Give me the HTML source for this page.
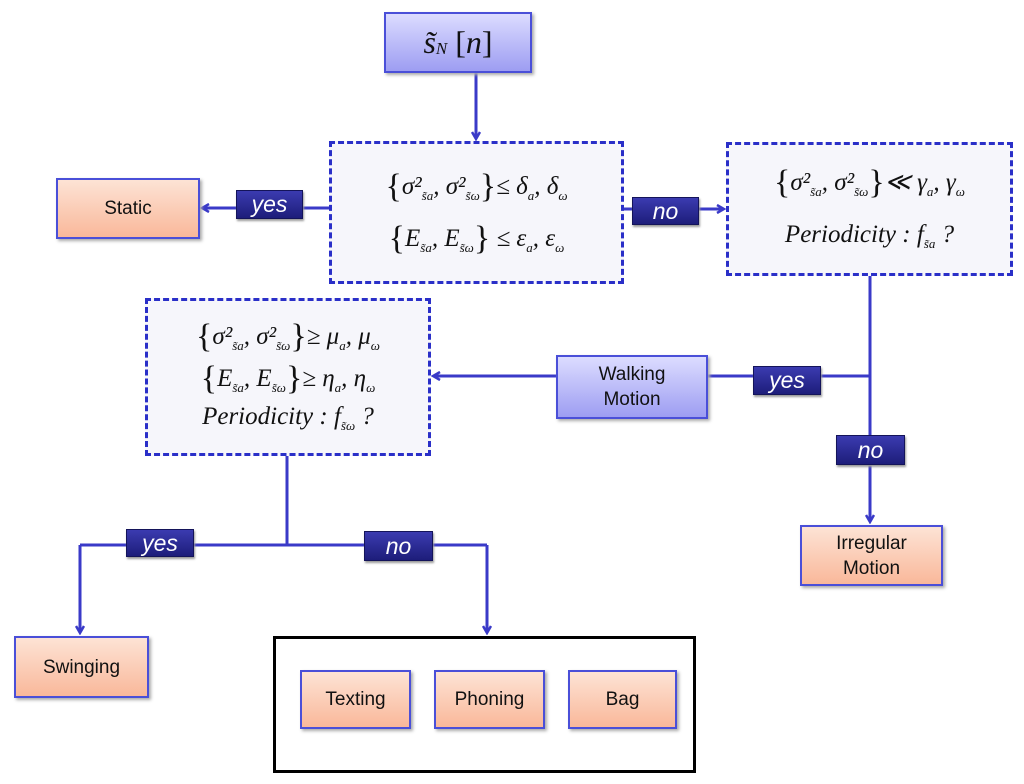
<!DOCTYPE html>
<html><head><meta charset="utf-8"><style>
body{margin:0;width:1024px;height:784px;background:#fff;position:relative;overflow:hidden;font-family:"Liberation Sans",sans-serif}
.b{position:absolute;box-sizing:border-box;display:flex;align-items:center;justify-content:center;text-align:center;font-size:19px;color:#111;line-height:25px}
.o{background:linear-gradient(#fde3d5,#f9b89a);border:2px solid #4a4fd8;box-shadow:2px 2px 3px #aaa}
.p{background:linear-gradient(#dcdcff,#9d9df2);border:2px solid #4a4fd8;box-shadow:2px 2px 3px #aaa}
.d{background:#f6f6fb;border:3px dashed #2a2fc8;flex-direction:column;font-family:"Liberation Serif",serif;font-style:italic;font-size:25px;line-height:38px}
.d sub{font-size:13px;vertical-align:-6px;line-height:0}
.d .br{font-size:34px;font-style:normal;vertical-align:-3px;line-height:0}
.l{position:absolute;box-sizing:border-box;background:linear-gradient(#3b3bb0,#1d1d7a);color:#fff;font-style:italic;font-size:23px;display:flex;align-items:center;justify-content:center;border:1px solid #14145a;box-shadow:1px 2px 2px #999}
</style></head><body>
<svg width="1024" height="784" style="position:absolute;left:0;top:0">
<defs><marker id="a" markerWidth="10" markerHeight="10" refX="8" refY="5" orient="auto" markerUnits="userSpaceOnUse"><path d="M1,1 L8,5 L1,9" fill="none" stroke="#3a3ac8" stroke-width="2.5"/></marker></defs>
<g stroke="#3a3ac8" stroke-width="3" fill="none">
<line x1="476" y1="73" x2="476" y2="139" marker-end="url(#a)"/>
<line x1="329" y1="208" x2="202" y2="208" marker-end="url(#a)"/>
<line x1="623" y1="209" x2="724" y2="209" marker-end="url(#a)"/>
<line x1="870" y1="275" x2="870" y2="522" marker-end="url(#a)"/>
<line x1="870" y1="376" x2="707" y2="376"/>
<line x1="556" y1="376" x2="433" y2="376" marker-end="url(#a)"/>
<line x1="287" y1="455" x2="287" y2="545"/>
<line x1="80" y1="545" x2="487" y2="545"/>
<line x1="80" y1="545" x2="80" y2="633" marker-end="url(#a)"/>
<line x1="487" y1="545" x2="487" y2="633" marker-end="url(#a)"/>
</g></svg>
<div class="b p" style="left:384px;top:12px;width:148px;height:61px;font-family:'Liberation Serif',serif;font-style:italic;font-size:32px">s̃<span style="font-size:17px;position:relative;top:6px">N</span>&nbsp;<span style="font-style:normal">[</span>n<span style="font-style:normal">]</span></div>
<div class="b d" style="left:329px;top:141px;width:295px;height:143px"><div><span class="br">{</span>σ²<sub>s̃a</sub>, σ²<sub>s̃ω</sub><span class="br">}</span>≤ δ<sub>a</sub>, δ<sub>ω</sub></div><div style="margin-top:14px"><span class="br">{</span>E<sub>s̃a</sub>, E<sub>s̃ω</sub><span class="br">}</span> ≤ ε<sub>a</sub>, ε<sub>ω</sub></div></div>
<div class="b d" style="left:726px;top:142px;width:287px;height:134px"><div><span class="br">{</span>σ²<sub>s̃a</sub>, σ²<sub>s̃ω</sub><span class="br">}</span>≪ γ<sub>a</sub>, γ<sub>ω</sub></div><div style="margin-top:14px">Periodicity : f<sub>s̃a</sub> ?</div></div>
<div class="b d" style="left:145px;top:298px;width:286px;height:158px"><div><span class="br">{</span>σ²<sub>s̃a</sub>, σ²<sub>s̃ω</sub><span class="br">}</span>≥ μ<sub>a</sub>, μ<sub>ω</sub></div><div style="margin-top:4px"><span class="br">{</span>E<sub>s̃a</sub>, E<sub>s̃ω</sub><span class="br">}</span>≥ η<sub>a</sub>, η<sub>ω</sub></div><div>Periodicity : f<sub>s̃ω</sub> ?</div></div>
<div class="b o" style="left:56px;top:178px;width:144px;height:61px">Static</div>
<div class="b p" style="left:556px;top:355px;width:152px;height:64px">Walking<br>Motion</div>
<div class="b o" style="left:800px;top:525px;width:143px;height:61px">Irregular<br>Motion</div>
<div class="b o" style="left:14px;top:636px;width:135px;height:62px">Swinging</div>
<div style="position:absolute;left:273px;top:636px;width:423px;height:137px;box-sizing:border-box;border:3px solid #000"></div>
<div class="b o" style="left:300px;top:670px;width:111px;height:59px">Texting</div>
<div class="b o" style="left:434px;top:670px;width:111px;height:59px">Phoning</div>
<div class="b o" style="left:568px;top:670px;width:109px;height:59px">Bag</div>
<div class="l" style="left:236px;top:190px;width:67px;height:29px">yes</div>
<div class="l" style="left:632px;top:197px;width:67px;height:28px">no</div>
<div class="l" style="left:753px;top:366px;width:68px;height:29px">yes</div>
<div class="l" style="left:836px;top:435px;width:69px;height:30px">no</div>
<div class="l" style="left:126px;top:529px;width:68px;height:28px">yes</div>
<div class="l" style="left:364px;top:531px;width:69px;height:30px">no</div>
</body></html>
